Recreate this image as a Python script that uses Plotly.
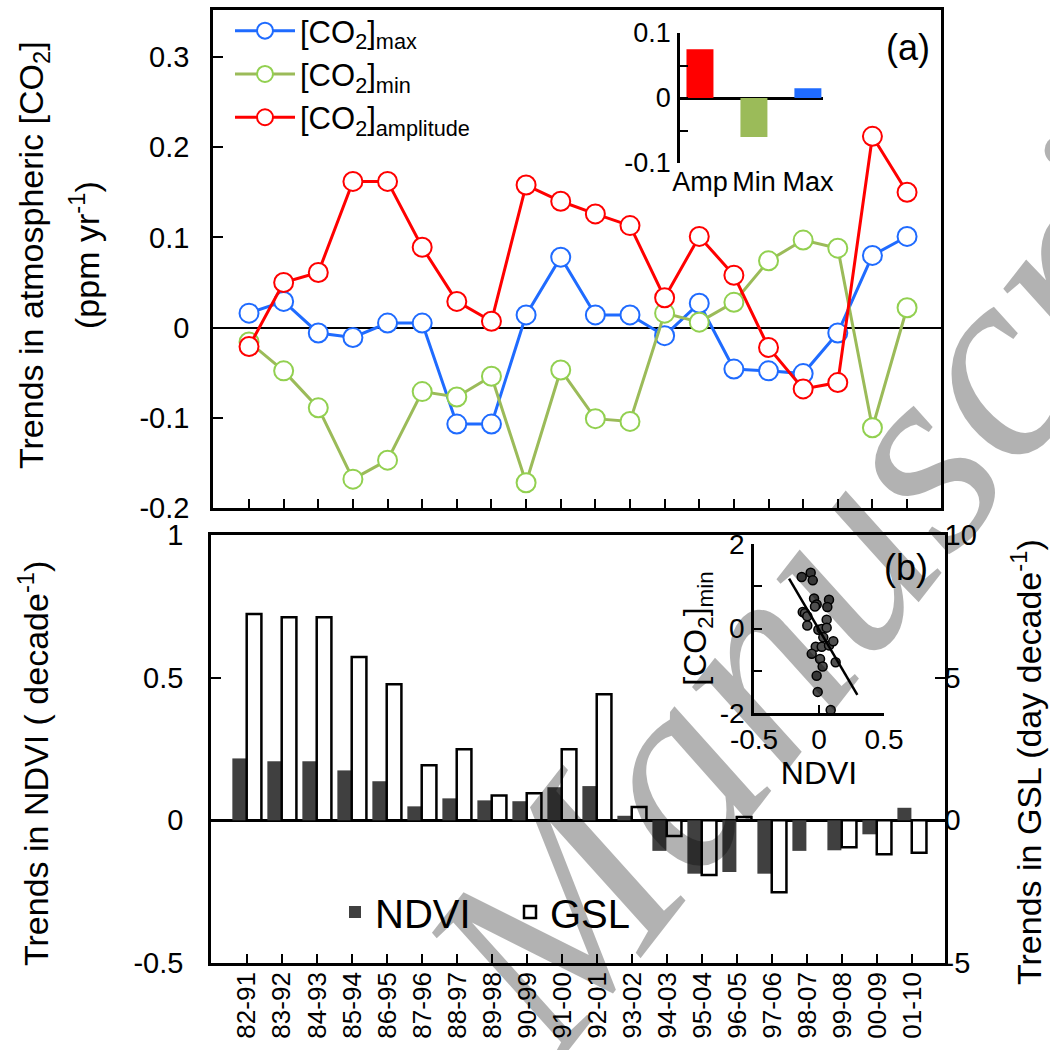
import plotly.graph_objects as go

# ---------------- data ----------------
periods = ["82-91", "83-92", "84-93", "85-94", "86-95", "87-96", "88-97", "89-98", "90-99", "91-00",
           "92-01", "93-02", "94-03", "95-04", "96-05", "97-06", "98-07", "99-08", "00-09", "01-10"]

co2_max = [0.016, 0.029, -0.006, -0.011, 0.005, 0.005, -0.107, -0.107, 0.014, 0.078,
           0.014, 0.014, -0.009, 0.027, -0.046, -0.048, -0.051, -0.006, 0.080, 0.101]
co2_min = [-0.016, -0.048, -0.089, -0.168, -0.147, -0.071, -0.077, -0.054, -0.172, -0.047,
           -0.101, -0.104, 0.016, 0.006, 0.028, 0.074, 0.097, 0.088, -0.111, 0.022]
co2_amp = [-0.021, 0.050, 0.061, 0.162, 0.162, 0.089, 0.029, 0.007, 0.158, 0.140,
           0.126, 0.113, 0.033, 0.101, 0.058, -0.022, -0.068, -0.061, 0.212, 0.150]

inset_a_cats = ["Amp", "Min", "Max"]
inset_a_vals = [0.075, -0.060, 0.015]

ndvi_trend = [0.217, 0.207, 0.207, 0.175, 0.137, 0.049, 0.077, 0.070, 0.067, 0.116,
              0.120, 0.016, -0.107, -0.187, -0.181, -0.187, -0.107, -0.105, -0.049, 0.044]
gsl_trend = [7.23, 7.12, 7.12, 5.72, 4.77, 1.93, 2.49, 0.87, 0.95, 2.49,
             4.42, 0.47, -0.55, -1.92, 0.12, -2.52, 0.0, -0.94, -1.19, -1.14]

scatter_ndvi = [-0.133, -0.064, -0.048, -0.038, -0.018, -0.031, 0.077, 0.064, -0.125, -0.108,
                -0.090, 0.059, -0.090, -0.005, 0.021, 0.059, 0.033, -0.025, 0.021, 0.077,
                0.110, -0.056, 0.008, 0.028, 0.128, -0.018, -0.010, 0.090]
scatter_co2min = [1.22, 1.32, 1.14, 0.71, 0.57, 0.52, 0.68, 0.51, 0.39, 0.36,
                  0.29, 0.21, 0.07, -0.03, -0.01, 0.02, -0.21, -0.43, -0.43, -0.40,
                  -0.30, -0.60, -0.72, -0.90, -0.80, -1.12, -1.50, -1.93]
fit_ndvi = [-0.23, 0.295]
fit_co2min = [1.18, -1.57]

# ---------------- style ----------------
FONT = "Liberation Sans, Arial, sans-serif"
BLUE = "#1f6bff"
GREEN_LINE = "#9bbb59"
GREEN_MK = "#92d050"
RED = "#ff0000"
W, H = 1050, 1050


def px_x(p):
    return p / W


def px_y(p):
    return 1 - p / H


fig = go.Figure()

# ---- panel (a) lines ----
for name, vals, lc, mc in [
    ("[CO<sub>2</sub>]<sub>max</sub>", co2_max, BLUE, BLUE),
    ("[CO<sub>2</sub>]<sub>min</sub>", co2_min, GREEN_LINE, GREEN_MK),
    ("[CO<sub>2</sub>]<sub>amplitude</sub>", co2_amp, RED, RED),
]:
    fig.add_trace(go.Scatter(
        x=periods, y=vals, name=name, mode="lines+markers",
        line=dict(color=lc, width=3),
        marker=dict(symbol="circle", size=19, color="white", line=dict(color=mc, width=2)),
        xaxis="x", yaxis="y", legend="legend"))

# ---- inset (a) bars ----
fig.add_trace(go.Bar(
    x=inset_a_cats, y=inset_a_vals, marker=dict(color=[RED, GREEN_LINE, BLUE], line=dict(width=0)),
    width=0.5, showlegend=False, xaxis="x2", yaxis="y2"))

# ---- panel (b) bars ----
fig.add_trace(go.Bar(
    x=periods, y=ndvi_trend, name="NDVI", marker=dict(color="#404040", line=dict(width=0)),
    width=0.40, offset=-0.42, xaxis="x3", yaxis="y3", legend="legend2"))
fig.add_trace(go.Bar(
    x=periods, y=gsl_trend, name="GSL", marker=dict(color="white", line=dict(color="black", width=2.5)),
    width=0.42, offset=-0.01, xaxis="x3", yaxis="y4", legend="legend2"))

# ---- inset (b) scatter ----
fig.add_trace(go.Scatter(
    x=scatter_ndvi, y=scatter_co2min, mode="markers", showlegend=False,
    marker=dict(size=9, color="#505050", line=dict(color="black", width=1.5)),
    xaxis="x5", yaxis="y5"))
fig.add_trace(go.Scatter(
    x=fit_ndvi, y=fit_co2min, mode="lines", showlegend=False,
    line=dict(color="black", width=2.5), xaxis="x5", yaxis="y5"))

axis_common = dict(showgrid=False, linecolor="black", linewidth=2.5, ticks="inside",
                   tickcolor="black", tickwidth=2, tickfont=dict(family=FONT, size=29, color="black"))

fig.update_layout(
    width=W, height=H, template="none",
    margin=dict(l=0, r=0, t=0, b=0),
    paper_bgcolor="white", plot_bgcolor="rgba(0,0,0,0)",
    font=dict(family=FONT, color="black"),
    barmode="overlay",
    # panel (a)
    xaxis=dict(axis_common, domain=[px_x(213), px_x(941)], anchor="y", type="category",
               categoryorder="array", categoryarray=periods, range=[-1.04, 19.98],
               showticklabels=False, ticklen=9, showline=True, mirror=True, zeroline=False),
    yaxis=dict(axis_common, domain=[px_y(508), px_y(10)], anchor="x", range=[-0.2, 0.352],
               tickvals=[-0.2, -0.1, 0, 0.1, 0.2, 0.3], ticktext=["-0.2", "-0.1", "0", "0.1", "0.2", "0.3"],
               ticklen=10, ticklabelstandoff=15, showline=True, mirror=True,
               zeroline=True, zerolinecolor="black", zerolinewidth=1.8),
    # inset (a)
    xaxis2=dict(domain=[px_x(680), px_x(823)], anchor="y2", type="category", range=[-0.37, 2.28],
                showline=False, showgrid=False, zeroline=False, ticks="", tickangle=0,
                tickfont=dict(family=FONT, size=27, color="black")),
    yaxis2=dict(axis_common, domain=[px_y(163), px_y(33)], anchor="x2", range=[-0.1, 0.1],
                tickvals=[-0.1, -0.05, 0, 0.05, 0.1], ticktext=["-0.1", " ", "0", " ", "0.1"],
                ticklen=8, ticklabelstandoff=1, showline=True,
                tickfont=dict(family=FONT, size=27, color="black"),
                zeroline=True, zerolinecolor="black", zerolinewidth=2.5),
    # panel (b)
    xaxis3=dict(axis_common, domain=[px_x(211), px_x(945)], anchor="y3", type="category",
                categoryorder="array", categoryarray=periods, range=[-1.03, 19.94],
                tickangle=-90, ticklen=9, showline=True, mirror=True, zeroline=False,
                tickfont=dict(family=FONT, size=26, color="black"), ticklabelstandoff=-4),
    yaxis3=dict(axis_common, domain=[px_y(963), px_y(535)], anchor="x3", range=[-0.5, 1.0],
                tickvals=[-0.5, 0, 0.5, 1], ticktext=["-0.5", "0", "0.5", "1"],
                ticklen=10, ticklabelstandoff=19, showline=True,
                zeroline=True, zerolinecolor="black", zerolinewidth=2.5),
    yaxis4=dict(axis_common, overlaying="y3", side="right", anchor="x3", range=[-5, 10],
                tickvals=[-5, 0, 5, 10], ticktext=["-5", "0", "5", "10"],
                ticklen=10, ticklabelstandoff=-9, showline=True, zeroline=False),
    # inset (b)
    xaxis5=dict(axis_common, domain=[px_x(754), px_x(884)], anchor="y5", range=[-0.5, 0.5],
                tickvals=[-0.5, 0, 0.5], ticktext=["-0.5", "0", "0.5"], ticklen=8,
                showline=True, zeroline=False, tickfont=dict(family=FONT, size=28, color="black"),
                title=dict(text="NDVI", font=dict(family=FONT, size=32, color="black"), standoff=4)),
    yaxis5=dict(axis_common, domain=[px_y(713), px_y(544)], anchor="x5", range=[-2, 2],
                tickvals=[-2, -1, 0, 1, 2], ticktext=["-2", " ", "0", " ", "2"], ticklen=8,
                ticklabelstandoff=1, showline=True, zeroline=False,
                tickfont=dict(family=FONT, size=28, color="black"),
                title=dict(text="[CO<sub>2</sub>]<sub>min</sub>", font=dict(family=FONT, size=32, color="black"),
                           standoff=4)),
    legend=dict(x=px_x(230), y=px_y(4), xanchor="left", yanchor="top", bgcolor="rgba(0,0,0,0)",
                font=dict(family=FONT, size=31, color="black"), itemwidth=60, tracegroupgap=0,
                borderwidth=0),
    legend2=dict(x=px_x(335), y=px_y(912), xanchor="left", yanchor="middle", orientation="h",
                 bgcolor="rgba(0,0,0,0)", font=dict(family=FONT, size=40, color="black"),
                 itemwidth=30, entrywidth=130, entrywidthmode="pixels", borderwidth=0),
)

annotations = [
    dict(text="Trends in atmospheric [CO<sub>2</sub>]", x=px_x(33), y=px_y(255), textangle=-90,
         font=dict(size=34)),
    dict(text="(ppm yr<sup>-1</sup>)", x=px_x(84), y=px_y(255), textangle=-90, font=dict(size=34)),
    dict(text="Trends in NDVI ( decade<sup>-1</sup>)", x=px_x(33), y=px_y(764), textangle=-90,
         font=dict(size=34)),
    dict(text="Trends in GSL (day decade<sup>-1</sup>)", x=px_x(1026), y=px_y(762), textangle=-90,
         font=dict(size=34)),
    dict(text="(a)", x=px_x(908), y=px_y(48), font=dict(size=36)),
    dict(text="(b)", x=px_x(906), y=px_y(567), font=dict(size=36)),
    # watermark
    dict(text="<i>Manuscript</i>", x=px_x(875), y=px_y(507), textangle=-52,
         font=dict(family="Liberation Serif, serif", size=275, color="rgba(0,0,0,0.3)")),
]
for a in annotations:
    a.update(xref="paper", yref="paper", showarrow=False, xanchor="center", yanchor="middle")
    a["font"].setdefault("family", FONT)
    a["font"].setdefault("color", "black")
fig.update_layout(annotations=annotations)

fig.write_html("out.html", config={"displayModeBar": False},
               post_script="document.body.style.margin='0px';")
